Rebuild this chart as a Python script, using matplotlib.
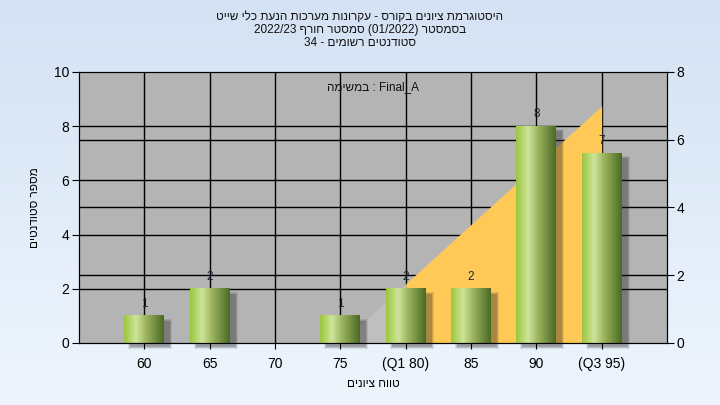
import re
import numpy as np
import matplotlib; matplotlib.use("Agg"); import matplotlib.pyplot as plt
from matplotlib.colors import LinearSegmentedColormap
from matplotlib.patches import Rectangle

plt.rcParams['font.family'] = ['Liberation Sans', 'DejaVu Sans']

# data
grades = ["60", "65", "70", "75", "(Q1 80)", "85", "90", "(Q3 95)"]
counts = [1, 2, 0, 1, 2, 2, 8, 7]
area_idx = [3, 4, 5, 6, 7]              # 75 .. 95
area_right = [0, 1.75, 3.5, 5.25, 7.0]  # right-axis units
q1_idx = 4

title_lines = ["היסטוגרמת ציונים בקורס - עקרונות מערכות הנעת כלי שייט",
               "בסמסטר (01/2022) סמסטר חורף 2022/23",
               "סטודנטים רשומים - 34"]
task_label = "Final_A : במשימה"
xlabel = "טווח ציונים"
ylabel = "מספר סטודנטים"

def rtl(s):
    # visual order for a right-to-left paragraph (matplotlib draws left to right)
    toks = re.findall(r"[A-Za-z0-9_][A-Za-z0-9_/.]*[A-Za-z0-9_]|[A-Za-z0-9_]|[^A-Za-z0-9_]+", s)
    mir = str.maketrans("()", ")(")
    return "".join(t if re.match(r"[A-Za-z0-9_]", t) else t[::-1].translate(mir) for t in reversed(toks))

fig = plt.figure(figsize=(7.2, 4.05), dpi=100)
bg = fig.add_axes([0, 0, 1, 1], zorder=-10); bg.axis("off")
bg.imshow(np.linspace(0, 1, 256)[:, None],
          cmap=LinearSegmentedColormap.from_list("bg", ["#d4e2f4", "#eef5fd"]),
          aspect="auto", extent=[0, 1, 0, 1])

ax = fig.add_axes([79/720, 62/405, 588/720, 271/405])
ax.set_facecolor("#b4b4b4")
x = np.arange(len(grades))

# grid (left ticks + right ticks + categories)
for v in [2, 4, 6, 8]:
    ax.axhline(v, color="black", lw=1, zorder=0.5)
for v in [2, 4, 6]:
    ax.axhline(v * 10 / 8, color="black", lw=1, zorder=0.5)
for xi in x:
    ax.axvline(xi, color="black", lw=1, zorder=0.5)

# area
ay = np.array(area_right) * 10 / 8
axx = np.array(area_idx, dtype=float)
k = area_idx.index(q1_idx)
ax.fill_between(axx[:k+1], 0, ay[:k+1], color="#bfbfbf", lw=0, zorder=1)
ax.fill_between(axx[k:], 0, ay[k:], color="#ffc957", lw=0, zorder=1)

# bars with cylinder gradient and soft shadow
cmap = LinearSegmentedColormap.from_list(
    "cyl", [(0, "#9cc63e"), (0.3, "#cde59a"), (0.55, "#9db55f"), (1, "#4a6a24")])
grad = np.linspace(0, 1, 128)[None, :]
w = 0.61
px_x, px_y = 1 / 65.3, 1 / 27.1
for xi, c in zip(x, counts):
    if c == 0:
        continue
    for g, a in [(2, 0.10), (1, 0.14), (0, 0.20)]:
        ax.add_patch(Rectangle((xi - w/2 + (6 - g) * px_x, (-4 - g) * px_y),
                               w + 2 * g * px_x, c + 2 * g * px_y - 1 * px_y,
                               color="#202020", alpha=a, lw=0, zorder=1.5, clip_on=False))
    ax.imshow(grad, cmap=cmap, aspect="auto", extent=[xi - w/2, xi + w/2, 0, c], zorder=2)
    ax.text(xi, c + 0.22, str(c), ha="center", va="bottom", fontsize=8.5, color="#222233", zorder=3)

ax.set_xlim(-1, len(grades)); ax.set_ylim(0, 10)
ax.set_yticks(range(0, 11, 2))
ax.set_xticks(x, grades)
ax.tick_params(axis="y", length=5, labelsize=10, pad=2)
ax.tick_params(axis="x", length=4, labelsize=10, pad=6)
ax.text(0.5, 0.945, rtl(task_label), transform=ax.transAxes, ha="center", va="center",
        fontsize=8.5, color="#111111")
for s in ax.spines.values():
    s.set_color("black")

tw = ax.twinx()
tw.set_ylim(0, 8); tw.set_yticks(range(0, 9, 2))
tw.tick_params(axis="y", length=5, labelsize=10, pad=2)
tw.patch.set_visible(False)

ax.set_xlabel(rtl(xlabel), fontsize=8.5, labelpad=5)
ax.set_ylabel(rtl(ylabel), fontsize=8.5, labelpad=9)

for line, yy in zip(title_lines, [17, 30, 43]):
    fig.text(0.5, 1 - yy / 405, rtl(line), ha="center", va="center", fontsize=8.5, color="#111111")

fig.savefig("out.png", dpi=100)
